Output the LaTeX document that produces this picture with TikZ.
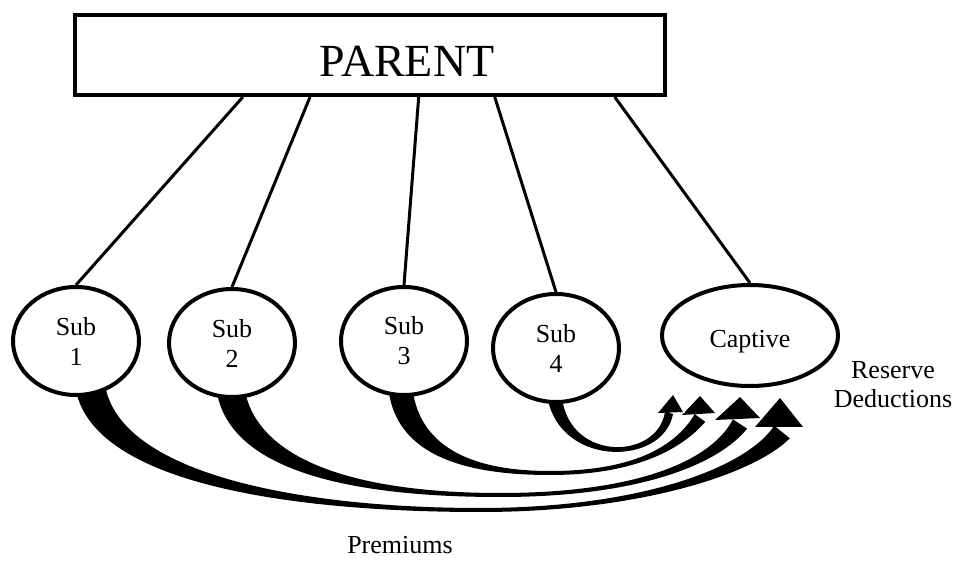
\documentclass[tikz,border=0pt]{standalone}
\usepackage{fontspec}
\setmainfont{Liberation Serif}
\usetikzlibrary{shapes.geometric,calc,backgrounds}

\begin{document}
\begin{tikzpicture}[x=1pt, y=-1pt,
		company/.style={ellipse, draw, line width=4pt, fill=white, inner sep=0pt, align=center, font=\fontsize{26}{30}\selectfont},
		subco/.style={company, minimum width=126pt, minimum height=108pt},
		link/.style={line width=3pt},
		prem/.style={fill=black, preaction={draw=white, line width=2.4pt}},
		caption/.style={align=center, font=\fontsize{26}{29}\selectfont}]
			\useasboundingbox (0,0) rectangle (954,561);
			\node[draw, line width=4pt, minimum width=590pt, minimum height=80pt, inner sep=0pt] (parent) at (370,55) {};
			\node[font=\fontsize{46}{50}\selectfont] (parentname) at (407,61) {PARENT};
			\node[subco] (sub1) at (76,341) {Sub\\1};
			\node[subco] (sub2) at (232,343) {Sub\\2};
			\node[subco] (sub3) at (404,341) {Sub\\3};
			\node[subco] (sub4) at (556,348) {Sub\\4};
			\node[company, minimum width=176pt, minimum height=101pt] (captive) at (750,335.5) {\raisebox{-12pt}[0pt][0pt]{Captive}};
			\foreach \f/\s in {0.286/sub1, 0.399/sub2, 0.582/sub3, 0.710/sub4, 0.912/captive}
				\draw[link] ($(parent.south west)!\f!(parent.south east)$) -- (\s.north);
			\node[caption] (reserve) at (893,384.5) {Reserve\\Deductions};
			\node[caption] (premiums) at (400,545) {Premiums};
			\begin{scope}[on background layer]
				\fill[prem] (75,385) .. controls (88,486) and (300,512) .. (480,512)
					.. controls (640,512) and (754.4,474) .. (789.8,438.3) -- (774.2,425.7)
					.. controls (746.6,467.8) and (640,508) .. (480,508)
					.. controls (300,508) and (120,474) .. (105,385) -- cycle
					(803,427) -- (780,398) -- (755,427) -- cycle;
				\fill[prem] (216,386) .. controls (225,474) and (360,497) .. (500,497)
					.. controls (640,497) and (718.9,464) .. (747.1,428.6) -- (732.9,419.4)
					.. controls (712.1,459.6) and (640,493) .. (500,493)
					.. controls (360,493) and (255,462) .. (244,386) -- cycle
					(760,418) -- (740,397) -- (715,420) -- cycle;
				\fill[prem] (388,384) .. controls (393,458) and (470,475) .. (550,475)
					.. controls (630,475) and (678.9,452.2) .. (705.3,421.8) -- (694.7,414.2)
					.. controls (674.1,448.6) and (630,471) .. (550,471)
					.. controls (470,471) and (417,446) .. (412,384) -- cycle
					(715,413) -- (700,396) -- (682,415) -- cycle;
				\fill[prem] (546.5,390) .. controls (553,468) and (663,468) .. (673,414) -- (665,412)
					.. controls (657,462) and (563,462) .. (561.5,390) -- cycle
					(683,412) -- (673,395) -- (658,413) -- cycle;
			\end{scope}
		\end{tikzpicture}
\end{document}
